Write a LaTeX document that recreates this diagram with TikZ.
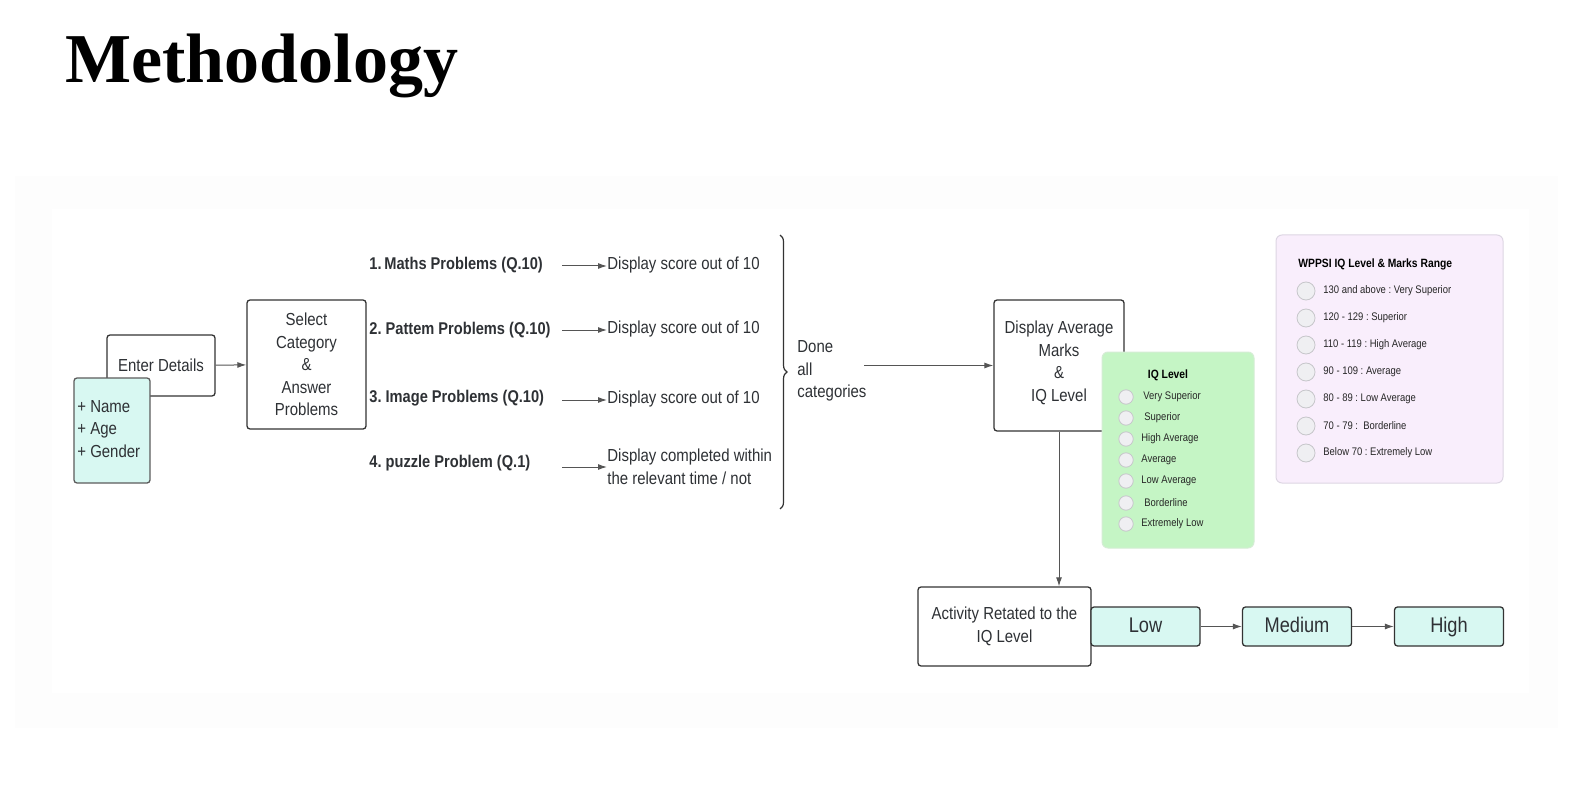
\documentclass[tikz,border=0pt]{standalone}
\usepackage{fontspec}
\setmainfont{Liberation Sans}[FakeStretch=0.86]
\newfontfamily\titlefont{Liberation Serif}
\usetikzlibrary{arrows.meta,decorations.pathreplacing}
\definecolor{txt}{HTML}{2E3135}
\definecolor{edge}{HTML}{333333}
\definecolor{cyanf}{HTML}{D8F8F2}
\definecolor{greenf}{HTML}{C5F5C5}
\definecolor{greend}{HTML}{D5EDD5}
\definecolor{pinkf}{HTML}{F9EEFC}
\definecolor{pinkd}{HTML}{DDD6E3}
\definecolor{circf}{HTML}{EFEFF2}
\definecolor{circd}{HTML}{C6C6CA}
\definecolor{arr}{HTML}{555555}
\definecolor{bgf}{HTML}{FDFDFD}
\frenchspacing
\begin{document}
\begin{tikzpicture}[x=0.5pt,y=-0.5pt,
  mainfont/.style={font=\fontsize{8.7}{11.3}\selectfont},
  box/.style={draw=edge, line width=0.65pt, rounded corners=1.5pt, fill=white,
    align=center, inner sep=0pt, text=txt, mainfont},
  lvlbox/.style={draw=edge, line width=0.65pt, rounded corners=1.5pt, fill=cyanf,
    align=center, inner sep=0pt, text=txt, font=\fontsize{10.6}{13}\selectfont,
    minimum width=54.5pt, minimum height=19.5pt, text height=7.8pt, text depth=2pt},
  plain/.style={inner sep=0pt, text=txt, mainfont, align=left},
  prob/.style={inner sep=0pt, text=txt, font=\fontsize{8.5}{11}\selectfont\bfseries, anchor=west},
  conn/.style={draw=arr, line width=0.5pt, -{Latex[length=4.5pt,width=3pt]}},
  smalltxt/.style={inner sep=0pt, text=black!85, font=\fontsize{5.5}{6.6}\selectfont, anchor=west},
  dot/.style={circle, draw=circd, fill=circf, line width=0.4pt, inner sep=0pt},
]
\useasboundingbox (0,0) rectangle (1573,786);
% faint background
\fill[bgf] (15,176) rectangle (1558,728);
\fill[white] (52,209) rectangle (1529,693);

% title
\node[anchor=base west, inner sep=0pt, font=\titlefont\bfseries\fontsize{35}{40}\selectfont] (title) at (65,83) {Methodology};

% left part
\node[box, minimum width=54pt, minimum height=30.5pt] (enter) at (161,365.5) {Enter Details};
\node[box, fill=cyanf, draw=edge!80, minimum width=38pt, minimum height=52.5pt] (info) at (112,430.5) {};
\node[plain, anchor=west] (infotext) at (77,429) {+ Name\\+ Age\\+ Gender};
\node[box, minimum width=59.5pt, minimum height=64.5pt] (select) at (306.5,364.5) {Select\\Category\\\&\\Answer\\Problems};
\draw[conn] (enter) -- (select);

% problems
\node[prob] (p1) at (369,265) {1.\,Maths Problems (Q.10)};
\node[prob] (p2) at (369,330) {2. Pattem Problems (Q.10)};
\node[prob] (p3) at (369,398) {3. Image Problems (Q.10)};
\node[prob] (p4) at (369,463) {4. puzzle Problem (Q.1)};

\node[plain, anchor=west] (d1) at (607,265) {Display score out of 10};
\node[plain, anchor=west] (d2) at (607,329) {Display score out of 10};
\node[plain, anchor=west] (d3) at (607,399) {Display score out of 10};
\node[plain, anchor=west] (d4) at (607,466.5) {Display completed within\\the relevant time / not};

\coordinate (a1) at (562,266);
\coordinate (a2) at (562,330);
\coordinate (a3) at (562,400);
\coordinate (a4) at (562,467);
\draw[conn] (a1) -- (d1.west |- a1);
\draw[conn] (a2) -- (d2.west |- a2);
\draw[conn] (a3) -- (d3.west |- a3);
\draw[conn] (a4) -- (d4.west |- a4);

% brace
\draw[edge, line width=0.6pt, decorate, decoration={brace, amplitude=3.5pt}] (780,235) -- (780,509);
\node[plain, anchor=west] (done) at (797,371) {Done\\all\\categories};

% display average
\node[box, minimum width=65pt, minimum height=65.5pt] (davg) at (1059,365.5) {};
\node[inner sep=0pt, align=center, text=txt, mainfont] (davgtext) at (1059,363) {Display Average\\Marks\\\&\\IQ Level};
\coordinate (dn) at (864,365.5);
\draw[conn] (dn) -- (davg.west);

% IQ level green box
\node[draw=greend, fill=greenf, line width=0.5pt, rounded corners=3pt, minimum width=76pt, minimum height=98pt, inner sep=0pt] (green) at (1178,450) {};
\node[inner sep=0pt, font=\fontsize{6}{7}\selectfont\bfseries, text=black] (gtitle) at (1168,375) {IQ Level};
\foreach \i/\y/\dx/\t in {1/397/2/Very Superior, 2/418/3/Superior, 3/439/0/High Average, 4/460/0/Average, 5/481/0/Low Average, 6/503/3/Borderline, 7/524/0/Extremely Low}{
  \node[dot, minimum size=7.2pt] (g\i) at (1126,\y) {};
  \node[smalltxt] (gl\i) at (1141+\dx,\y) {\t};
}

% activity row
\node[box, minimum width=86.5pt, minimum height=39.5pt] (act) at (1004.5,626.5) {Activity Retated to the\\IQ Level};
\draw[conn] (davg.south) -- (davg.south |- act.north);
\node[lvlbox] (low) at (1145.5,626.5) {Low};
\node[lvlbox] (med) at (1297,626.5) {Medium};
\node[lvlbox] (high) at (1449,626.5) {High};
\draw[conn] (low) -- (med);
\draw[conn] (med) -- (high);

% WPPSI box
\node[draw=pinkd, fill=pinkf, line width=0.5pt, rounded corners=3pt, minimum width=113.5pt, minimum height=124pt, inner sep=0pt] (wppsi) at (1389.5,359) {};
\node[inner sep=0pt, anchor=west, font=\fontsize{6}{7}\selectfont\bfseries, text=black] (wtitle) at (1298,264) {WPPSI IQ Level \& Marks Range};
\foreach \i/\t [evaluate=\i as \y using 291+27*(\i-1)] in {1/130 and above : Very Superior, 2/120 - 129 : Superior, 3/110 - 119 : High Average, 4/90 - 109 : Average, 5/80 - 89 : Low Average, 6/70 - 79 :\ \ Borderline, 7/Below 70 : Extremely Low}{
  \node[dot, minimum size=9pt] (w\i) at (1306,\y) {};
  \node[smalltxt] (wl\i) at (1323,\y) {\t};
}
\end{tikzpicture}
\end{document}
